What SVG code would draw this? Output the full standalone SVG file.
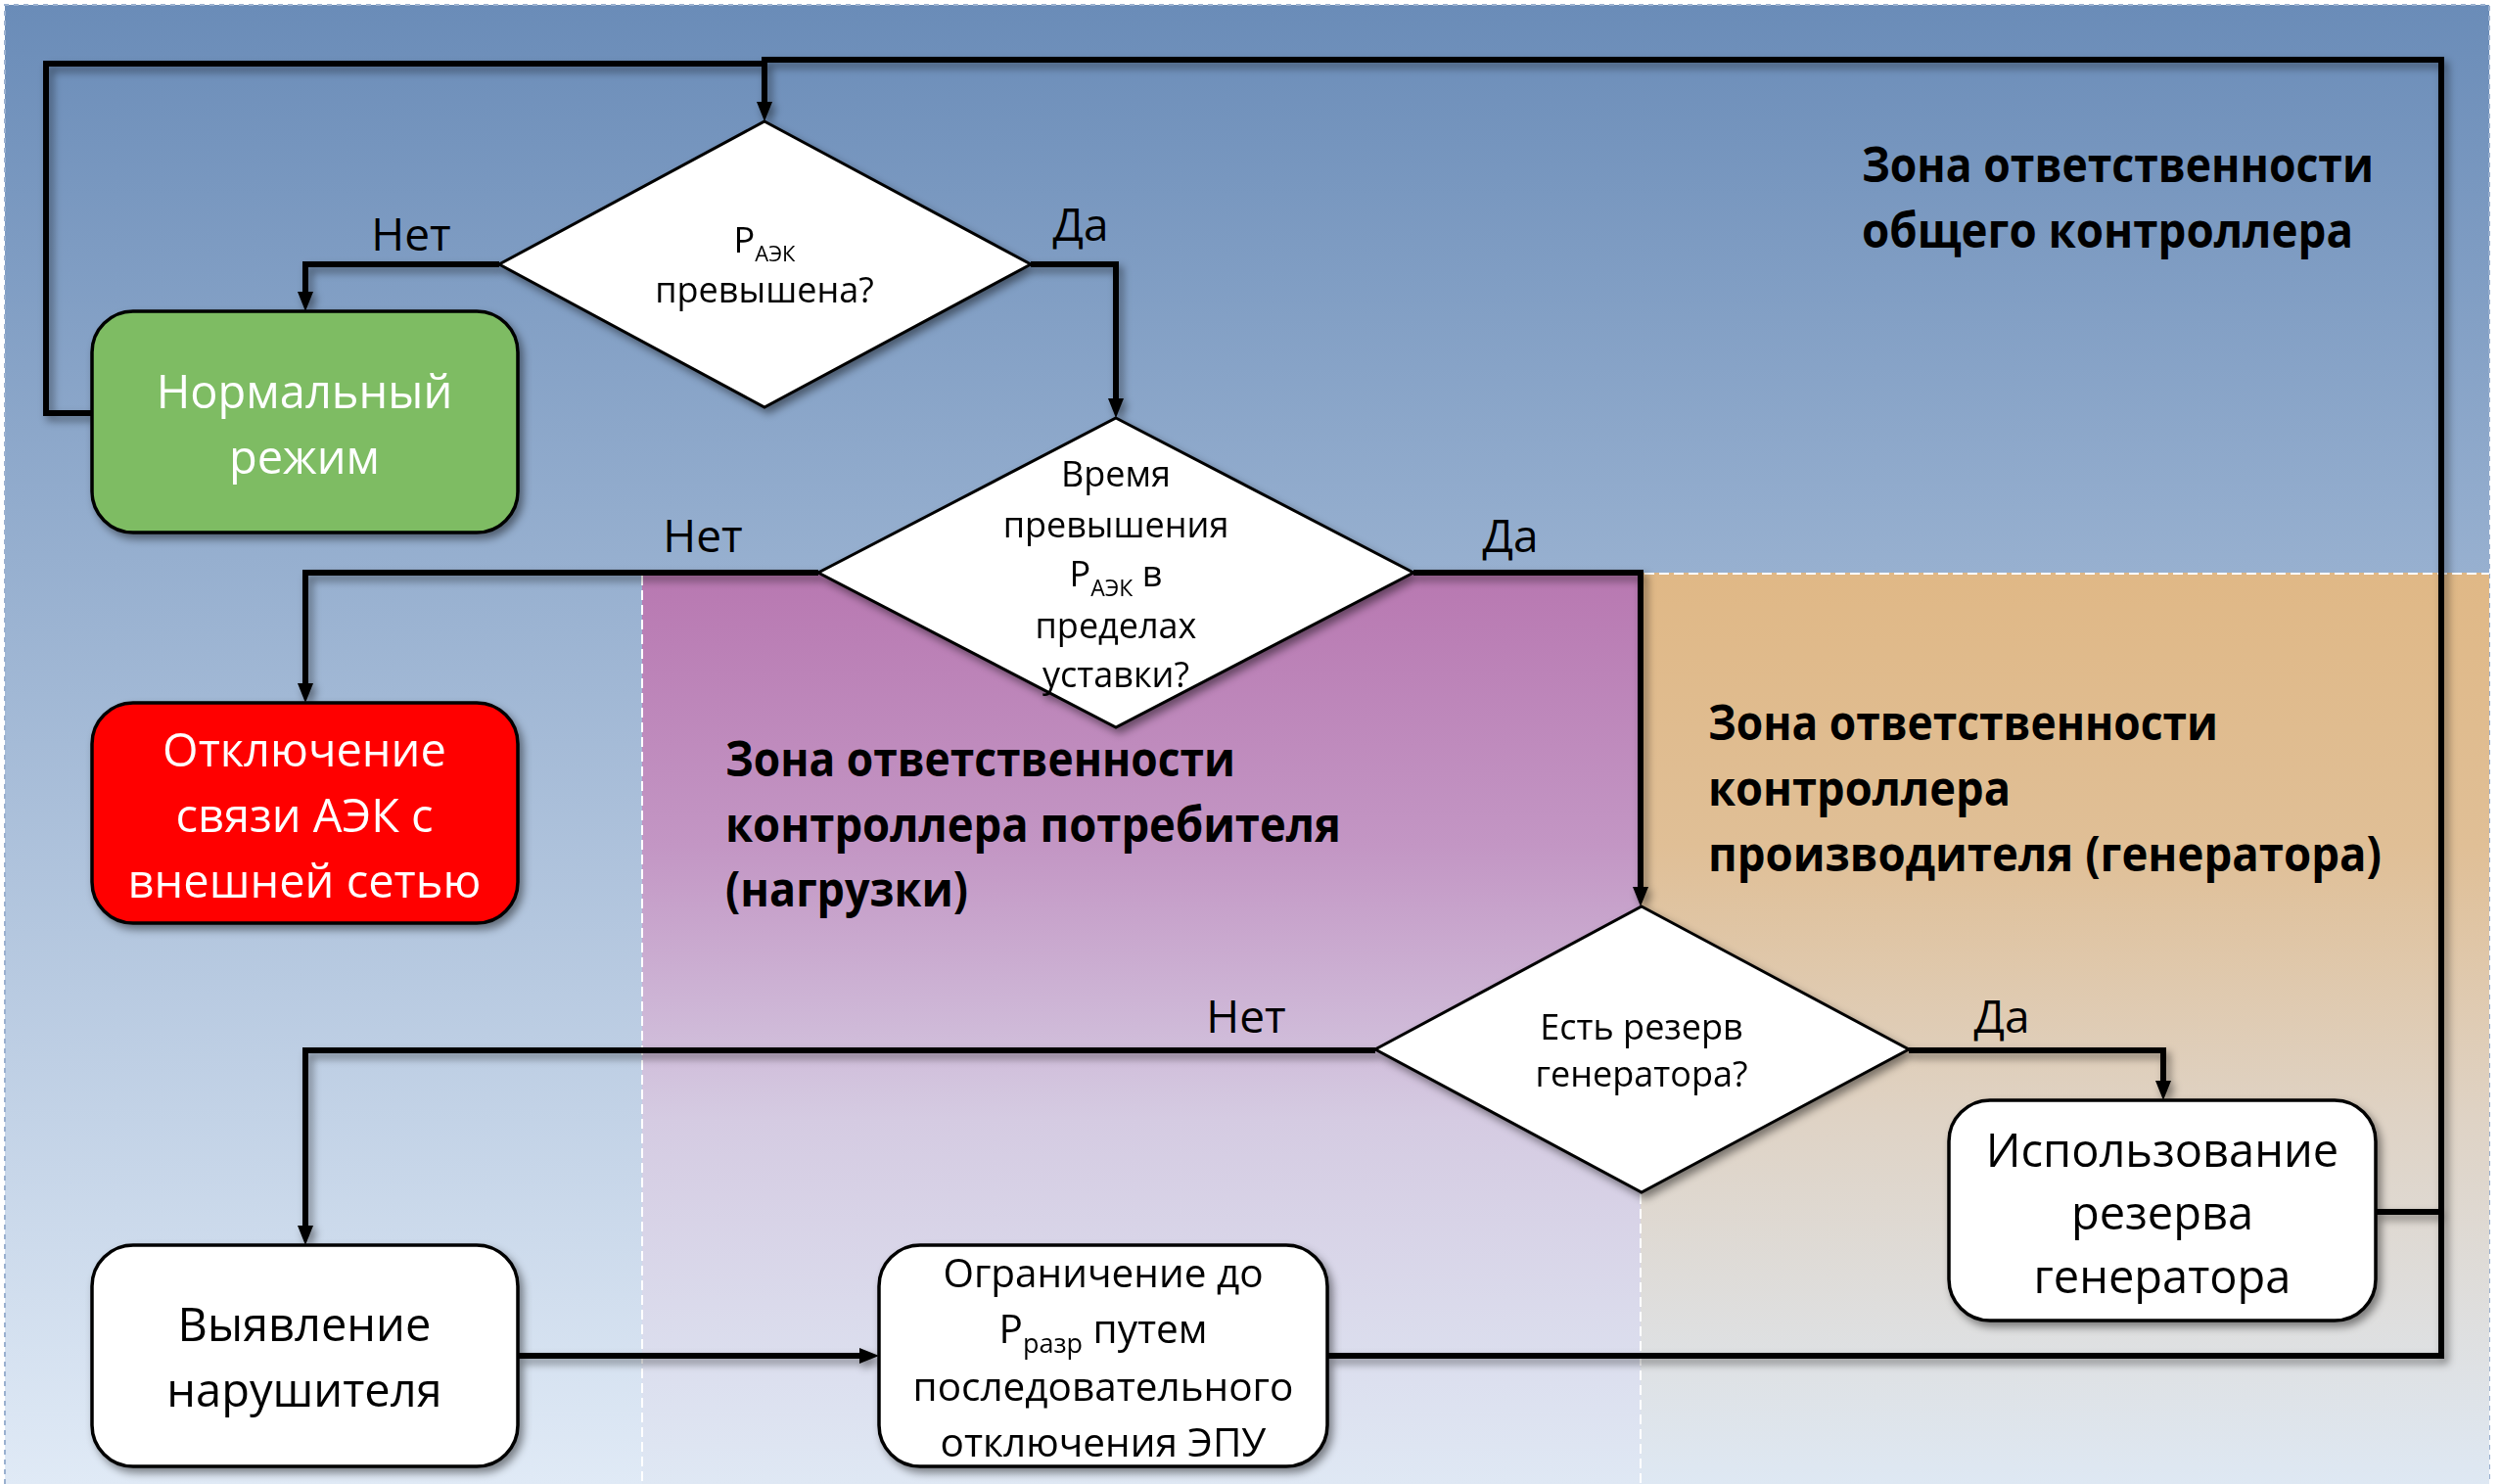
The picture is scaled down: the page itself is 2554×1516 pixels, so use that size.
<svg xmlns="http://www.w3.org/2000/svg" width="2554" height="1516" viewBox="0 0 2554 1516">
<defs>
<linearGradient id="gBg" gradientUnits="userSpaceOnUse" x1="0" y1="5" x2="0" y2="1516">
<stop offset="0" stop-color="#6a8cb8"/>
<stop offset="1" stop-color="#e0eaf6"/>
</linearGradient>
<linearGradient id="gPurple" gradientUnits="userSpaceOnUse" x1="0" y1="585" x2="0" y2="1516">
<stop offset="0" stop-color="#b878b1"/>
<stop offset="0.3" stop-color="#c396c4"/>
<stop offset="0.6" stop-color="#d5cbe2"/>
<stop offset="1" stop-color="#dfe8f4"/>
</linearGradient>
<linearGradient id="gOrange" gradientUnits="userSpaceOnUse" x1="0" y1="585" x2="0" y2="1516">
<stop offset="0" stop-color="#e0b886"/>
<stop offset="0.3" stop-color="#e0bf96"/>
<stop offset="0.6" stop-color="#dfd3c5"/>
<stop offset="1" stop-color="#dee8f3"/>
</linearGradient>
<filter id="shadow" x="-10%" y="-10%" width="130%" height="130%">
<feDropShadow dx="4" dy="5" stdDeviation="4" flood-color="#000" flood-opacity="0.45"/>
</filter>
<marker id="arrow" markerUnits="userSpaceOnUse" markerWidth="20" markerHeight="16" refX="6" refY="8" orient="auto">
<path d="M0,0 L20,8 L0,16 z" fill="#000"/>
</marker>
</defs>
<style>
.conn{fill:none;stroke:#000;stroke-width:6;stroke-linejoin:miter}
.node{stroke:#000;stroke-width:3.5}
.dia{fill:#fff;stroke:#000;stroke-width:3}
.t{font-family:"Open Sans","Liberation Sans",sans-serif;text-anchor:middle;fill:#000}
.tw{fill:#fff}
.big{font-size:47px}
.mid{font-size:40.5px}
.sm{font-size:36px}
.lbl{font-family:"Open Sans","Liberation Sans",sans-serif;font-size:46px;text-anchor:middle;fill:#000}
.zone{font-family:"Open Sans","Liberation Sans",sans-serif;font-weight:bold;font-size:50px;fill:#000}
.dash{stroke:#fff;stroke-width:2;stroke-dasharray:10 5;fill:none}
</style>

<g id="background">
<rect x="5" y="5" width="2538" height="1511" fill="url(#gBg)"/>
<path d="M5,1516 V5 H2543 V1516" fill="none" stroke="#9ab0cf" stroke-width="2" stroke-dasharray="5 5"/>
<rect x="656" y="585" width="1020" height="931" fill="url(#gPurple)"/>
<rect x="1676" y="585" width="867" height="931" fill="url(#gOrange)"/>
<line class="dash" x1="656" y1="588" x2="656" y2="1516"/>
<line class="dash" x1="1676" y1="1220" x2="1676" y2="1516"/>
<line class="dash" x1="1680" y1="586" x2="2543" y2="586"/>
</g>

<g id="zone-labels">
<text class="zone" x="1902" y="186" textLength="523" lengthAdjust="spacingAndGlyphs">Зона ответственности</text>
<text class="zone" x="1902" y="253" textLength="502" lengthAdjust="spacingAndGlyphs">общего контроллера</text>
<text class="zone" x="741" y="793" textLength="521" lengthAdjust="spacingAndGlyphs">Зона ответственности</text>
<text class="zone" x="741" y="860" textLength="629" lengthAdjust="spacingAndGlyphs">контроллера потребителя</text>
<text class="zone" x="741" y="926" textLength="248" lengthAdjust="spacingAndGlyphs">(нагрузки)</text>
<text class="zone" x="1745" y="756" textLength="521" lengthAdjust="spacingAndGlyphs">Зона ответственности</text>
<text class="zone" x="1745" y="823" textLength="309" lengthAdjust="spacingAndGlyphs">контроллера</text>
<text class="zone" x="1745" y="890" textLength="688" lengthAdjust="spacingAndGlyphs">производителя (генератора)</text>
</g>

<g id="connectors" filter="url(#shadow)">
<path class="conn" d="M94,422 H47 V65 H784"/>
<path class="conn" d="M1356,1385 H2494 V61 H781 V110" marker-end="url(#arrow)"/>
<path class="conn" d="M510,270 H312 V304" marker-end="url(#arrow)"/>
<path class="conn" d="M1053,270 H1140 V413" marker-end="url(#arrow)"/>
<path class="conn" d="M836,585 H312 V704" marker-end="url(#arrow)"/>
<path class="conn" d="M1444,585 H1676 V912" marker-end="url(#arrow)"/>
<path class="conn" d="M1405,1073 H312 V1258" marker-end="url(#arrow)"/>
<path class="conn" d="M1950,1073 H2210 V1110" marker-end="url(#arrow)"/>
<path class="conn" d="M2427,1238 H2494"/>
<path class="conn" d="M529,1385 H884" marker-end="url(#arrow)"/>
</g>

<g id="edge-labels">
<text class="lbl" x="420" y="256">Нет</text>
<text class="lbl" x="1104" y="246">Да</text>
<text class="lbl" x="718" y="564">Нет</text>
<text class="lbl" x="1543" y="564">Да</text>
<text class="lbl" x="1273" y="1055">Нет</text>
<text class="lbl" x="2045" y="1055">Да</text>
</g>

<g id="node-d1" filter="url(#shadow)">
<polygon class="dia" points="781,124 1053,270 781,416 510,270"/>
<text class="t sm" x="781" y="258">Р<tspan font-size="22" dy="9">АЭК</tspan></text>
<text class="t sm" x="781" y="309">превышена?</text>
</g>

<g id="node-d2" filter="url(#shadow)">
<polygon class="dia" points="1140,427 1444,585 1140,743 836,585"/>
<text class="t sm" x="1140" y="497">Время</text>
<text class="t sm" x="1140" y="549">превышения</text>
<text class="t sm" x="1140" y="599">Р<tspan font-size="23" dy="10">АЭК</tspan><tspan dy="-10"> в</tspan></text>
<text class="t sm" x="1140" y="652">пределах</text>
<text class="t sm" x="1140" y="702">уставки?</text>
</g>

<g id="node-d3" filter="url(#shadow)">
<polygon class="dia" points="1677,926 1950,1072 1677,1218 1405,1072"/>
<text class="t sm" x="1677" y="1062">Есть резерв</text>
<text class="t sm" x="1677" y="1110">генератора?</text>
</g>

<g id="node-normal" filter="url(#shadow)">
<rect class="node" x="94" y="318" width="435" height="226" rx="42" fill="#7ebc63"/>
<text class="t big tw" x="311" y="417" font-size="48">Нормальный</text>
<text class="t big tw" x="311" y="484" font-size="48">режим</text>
</g>

<g id="node-disconnect" filter="url(#shadow)">
<rect class="node" x="94" y="718" width="435" height="225" rx="42" fill="#ff0000"/>
<text class="t big tw" x="311" y="783">Отключение</text>
<text class="t big tw" x="311" y="850">связи АЭК с</text>
<text class="t big tw" x="311" y="917">внешней сетью</text>
</g>

<g id="node-detect" filter="url(#shadow)">
<rect class="node" x="94" y="1272" width="435" height="226" rx="42" fill="#fff"/>
<text class="t big" x="311" y="1370">Выявление</text>
<text class="t big" x="311" y="1437">нарушителя</text>
</g>

<g id="node-limit" filter="url(#shadow)">
<rect class="node" x="898" y="1272" width="458" height="226" rx="42" fill="#fff"/>
<text class="t mid" x="1127" y="1315">Ограничение до</text>
<text class="t mid" x="1127" y="1372">Р<tspan font-size="27" dy="10">разр</tspan><tspan dy="-10"> путем</tspan></text>
<text class="t mid" x="1127" y="1431">последовательного</text>
<text class="t mid" x="1127" y="1488">отключения ЭПУ</text>
</g>

<g id="node-reserve" filter="url(#shadow)">
<rect class="node" x="1991" y="1124" width="436" height="225" rx="42" fill="#fff"/>
<text class="t big" x="2209" y="1192" font-size="46">Использование</text>
<text class="t big" x="2209" y="1256" font-size="46">резерва</text>
<text class="t big" x="2209" y="1321" font-size="46">генератора</text>
</g>
</svg>
